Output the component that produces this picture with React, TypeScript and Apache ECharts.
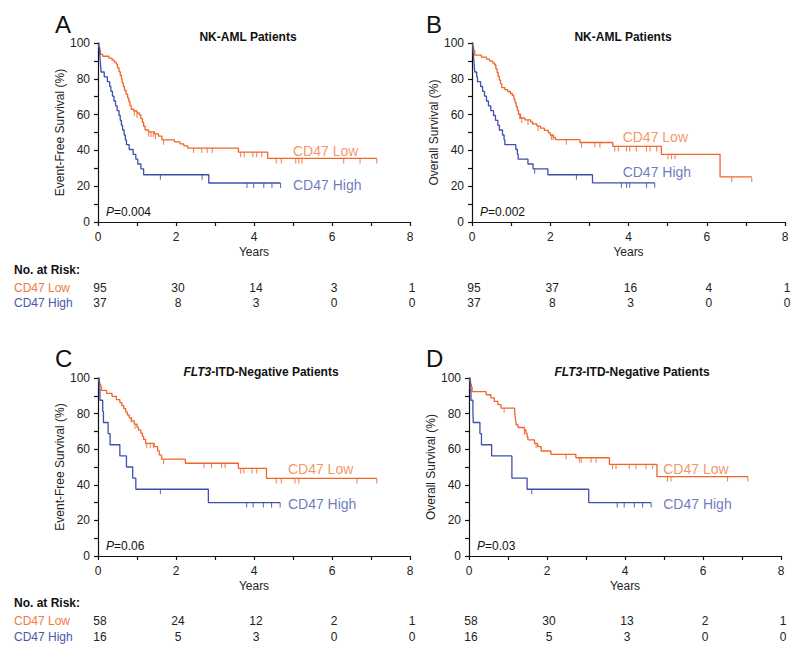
import React, { useEffect, useRef } from 'react';
import * as echarts from 'echarts';

// ---------- DATA ----------
const riskYears = [0, 2, 4, 6, 8];

// Panel A: Event-free survival, NK-AML
const aLowSteps: [number, number][] = [[0,100],[0.02,97.9],[0.04,95.8],[0.06,93.7],[0.12,92.6],[0.28,91.5],[0.36,90.4],[0.42,89.3],[0.47,88.2],[0.5,86.1],[0.54,84.0],[0.57,81.9],[0.6,79.8],[0.62,77.7],[0.65,75.6],[0.68,73.5],[0.72,71.4],[0.76,69.3],[0.79,67.2],[0.82,65.1],[0.85,63.0],[0.92,62.0],[1.0,60.9],[1.06,59.8],[1.1,57.7],[1.14,55.6],[1.17,53.5],[1.21,51.4],[1.3,50.3],[1.45,49.2],[1.55,48.0],[1.64,45.9],[1.96,44.8],[2.1,43.7],[2.2,42.5],[2.3,41.3],[3.6,39.0],[4.35,35.5]];
const aLowEnd = 7.15;
const aLowCensor = [0.93,1.0,1.3,1.36,1.42,1.47,1.68,2.45,2.66,2.8,2.93,3.66,3.75,3.97,4.07,4.2,4.57,4.7,5.07,5.15,5.23,6.3,6.72,7.15];
const aHighSteps: [number, number][] = [[0,100],[0.02,97.3],[0.04,94.6],[0.05,91.9],[0.06,89.2],[0.07,86.5],[0.08,83.8],[0.16,81.1],[0.24,78.4],[0.3,75.7],[0.33,73.0],[0.37,70.3],[0.41,67.6],[0.45,64.9],[0.49,62.2],[0.54,59.5],[0.57,56.8],[0.6,54.1],[0.63,51.4],[0.67,48.6],[0.7,45.9],[0.73,43.2],[0.8,40.5],[0.9,37.8],[0.97,35.1],[1.02,32.4],[1.1,29.7],[1.17,26.4],[2.84,21.8]];
const aHighEnd = 4.68;
const aHighCensor = [1.6,2.67,3.82,3.99,4.25,4.46,4.68];
const aRiskLow = [95, 30, 14, 3, 1];
const aRiskHigh = [37, 8, 3, 0, 0];

// Panel B: Overall survival, NK-AML
const bLowSteps: [number, number][] = [[0,100],[0.02,97.9],[0.04,95.8],[0.07,93.2],[0.24,92.1],[0.37,91.0],[0.45,89.9],[0.53,88.8],[0.58,87.7],[0.61,85.6],[0.64,83.5],[0.67,81.4],[0.7,79.3],[0.73,77.2],[0.76,75.1],[0.84,74.0],[0.91,72.9],[0.98,71.8],[1.03,70.7],[1.07,68.6],[1.1,66.5],[1.13,64.4],[1.16,62.3],[1.19,60.2],[1.24,58.1],[1.35,57.0],[1.5,55.9],[1.55,54.8],[1.66,53.6],[1.75,52.4],[1.85,51.2],[1.95,49.9],[2.0,48.6],[2.08,47.3],[2.13,46.0],[2.76,44.4],[3.6,42.2],[4.84,37.8],[6.34,25.2]];
const bLowEnd = 7.15;
const bLowCensor = [1.22,1.27,1.43,1.69,2.03,2.07,2.41,2.8,3.14,3.27,3.65,3.74,3.95,4.03,4.2,4.46,4.55,4.72,5.01,5.1,5.19,6.64,7.15];
const bHighSteps: [number, number][] = [[0,100],[0.02,97.3],[0.03,94.6],[0.04,91.9],[0.05,89.2],[0.06,86.5],[0.07,83.8],[0.12,81.1],[0.14,78.4],[0.22,75.7],[0.27,73.0],[0.32,70.3],[0.37,67.6],[0.42,64.9],[0.48,62.2],[0.55,59.5],[0.6,56.8],[0.66,54.1],[0.7,51.4],[0.78,48.6],[0.82,45.9],[0.84,43.2],[1.12,40.5],[1.16,37.8],[1.18,35.1],[1.43,32.4],[1.56,29.7],[1.94,26.4],[3.08,21.9]];
const bHighEnd = 4.67;
const bHighCensor = [1.6,2.67,3.82,3.95,4.03,4.46,4.67];
const bRiskLow = [95, 37, 16, 4, 1];
const bRiskHigh = [37, 8, 3, 0, 0];

// Panel C: Event-free survival, FLT3-ITD-negative
const cLowSteps: [number, number][] = [[0,100],[0.02,98.3],[0.04,96.6],[0.07,94.8],[0.09,93.1],[0.22,91.4],[0.36,89.7],[0.47,87.9],[0.56,86.2],[0.61,84.5],[0.66,82.8],[0.71,81.0],[0.75,79.3],[0.8,77.6],[0.86,75.9],[0.93,74.1],[1.0,72.4],[1.04,70.7],[1.1,69.0],[1.14,67.2],[1.17,65.5],[1.22,63.3],[1.44,61.4],[1.53,59.1],[1.57,56.8],[1.63,54.4],[2.24,52.1],[3.6,49.2],[4.32,43.6]];
const cLowEnd = 7.15;
const cLowCensor = [0.85,0.95,1.25,1.34,1.42,1.68,2.72,2.91,3.17,3.26,3.66,3.74,3.95,4.07,4.57,4.7,5.05,5.15,6.64,7.15];
const cHighSteps: [number, number][] = [[0,100],[0.03,93.75],[0.05,87.5],[0.12,81.25],[0.14,75],[0.26,68.75],[0.31,62.5],[0.56,56.25],[0.73,50],[0.89,43.75],[0.97,37.5],[2.83,30]];
const cHighEnd = 4.67;
const cHighCensor = [1.6,3.81,3.98,4.24,4.45,4.67];
const cRiskLow = [58, 24, 12, 2, 1];
const cRiskHigh = [16, 5, 3, 0, 0];

// Panel D: Overall survival, FLT3-ITD-negative
const dLowSteps: [number, number][] = [[0,100],[0.02,98.3],[0.04,96.6],[0.06,94.8],[0.08,92.3],[0.44,90.6],[0.56,88.8],[0.65,86.9],[0.74,85.0],[0.82,83.1],[1.17,81.2],[1.18,79.3],[1.19,77.4],[1.2,75.5],[1.21,73.6],[1.26,72.2],[1.42,70.8],[1.46,68.9],[1.49,67.0],[1.51,65.2],[1.68,63.3],[1.76,61.4],[1.85,59.0],[2.1,57.1],[2.74,55.2],[3.6,51.5],[4.82,44.6]];
const dLowEnd = 7.15;
const dLowCensor = [0.9,1.42,1.72,2.49,2.83,2.88,3.13,3.26,3.68,3.77,4.11,4.28,4.54,4.71,5.09,5.18,6.63,7.15];
const dHighSteps: [number, number][] = [[0,100],[0.03,93.75],[0.05,87.5],[0.1,81.25],[0.11,75],[0.28,68.75],[0.32,62.5],[0.58,56.25],[1.1,43.75],[1.49,37.5],[3.07,30]];
const dHighEnd = 4.67;
const dHighCensor = [1.61,3.8,3.98,4.24,4.45,4.67];
const dRiskLow = [58, 30, 13, 2, 1];
const dRiskHigh = [16, 5, 3, 0, 0];

// label anchors (years, %)
const aLabelPos = { low: [5.0, 39.7], high: [5.0, 20.7] };
const bLabelPos = { low: [3.85, 47.7], high: [3.85, 28.1] };
const cLabelPos = { low: [4.87, 48.7], high: [4.87, 29.2] };
const dLabelPos = { low: [4.98, 48.7], high: [4.98, 29.2] };

const pValues = ['0.004', '0.002', '0.06', '0.03'];
const yNames = ['Event-Free Survival (%)', 'Overall Survival (%)', 'Event-Free Survival (%)', 'Overall Survival (%)'];
const letters = ['A', 'B', 'C', 'D'];

// ---------- STYLE / LAYOUT ----------
const ORANGE = '#f0652a';
const BLUE = '#3f4fad';
const ORANGE_TXT = '#f27a3e';
const BLUE_TXT = '#4a58ab';
const FONT = "'Liberation Sans', Arial, Helvetica, sans-serif";

const layout = [
  { left: 98, top: 43, width: 312, height: 179, titleX: 248, titleY: 37, letterX: 55, letterY: 24, riskY: [270, 288, 303] },
  { left: 472, top: 43, width: 313, height: 179, titleX: 623, titleY: 37, letterX: 426, letterY: 24, riskY: [270, 288, 303] },
  { left: 98, top: 378, width: 312, height: 178, titleX: 261, titleY: 372, letterX: 55, letterY: 358, riskY: [603, 621, 637] },
  { left: 469, top: 378, width: 312, height: 178, titleX: 632, titleY: 372, letterX: 426, letterY: 358, riskY: [603, 621, 637] },
];

const panels = [
  { low: aLowSteps, lowEnd: aLowEnd, lowC: aLowCensor, high: aHighSteps, highEnd: aHighEnd, highC: aHighCensor, rl: aRiskLow, rh: aRiskHigh, lab: aLabelPos, flt: false },
  { low: bLowSteps, lowEnd: bLowEnd, lowC: bLowCensor, high: bHighSteps, highEnd: bHighEnd, highC: bHighCensor, rl: bRiskLow, rh: bRiskHigh, lab: bLabelPos, flt: false },
  { low: cLowSteps, lowEnd: cLowEnd, lowC: cLowCensor, high: cHighSteps, highEnd: cHighEnd, highC: cHighCensor, rl: cRiskLow, rh: cRiskHigh, lab: cLabelPos, flt: true },
  { low: dLowSteps, lowEnd: dLowEnd, lowC: dLowCensor, high: dHighSteps, highEnd: dHighEnd, highC: dHighCensor, rl: dRiskLow, rh: dRiskHigh, lab: dLabelPos, flt: true },
];

function survivalAt(steps: [number, number][], t: number) {
  let v = steps[0][1];
  for (const [x, y] of steps) { if (x <= t) v = y; }
  return v;
}

function buildOption() {
  const grid: any[] = [];
  const xAxis: any[] = [];
  const yAxis: any[] = [];
  const series: any[] = [];
  const graphic: any[] = [];

  panels.forEach((p, i) => {
    const L = layout[i];
    grid.push({ left: L.left, top: L.top, width: L.width, height: L.height, containLabel: false });
    xAxis.push({
      type: 'value', gridIndex: i, min: 0, max: 8, interval: 1,
      name: 'Years', nameLocation: 'middle', nameGap: 24,
      nameTextStyle: { fontFamily: FONT, fontSize: 12, color: '#222' },
      axisLine: { show: true, onZero: false, lineStyle: { color: '#111', width: 1.2 } },
      axisTick: { show: true, length: 4, inside: false, lineStyle: { color: '#111', width: 1.2 } },
      axisLabel: { margin: 9, fontFamily: FONT, fontSize: 12, color: '#222', formatter: (v: number) => (v % 2 === 0 ? String(v) : '') },
      splitLine: { show: false },
    });
    yAxis.push({
      type: 'value', gridIndex: i, min: 0, max: 100, interval: 10,
      name: yNames[i], nameLocation: 'middle', nameGap: 30,
      nameTextStyle: { fontFamily: FONT, fontSize: 12, color: '#222' },
      axisLine: { show: true, onZero: false, lineStyle: { color: '#111', width: 1.2 } },
      axisTick: { show: true, length: 4, inside: false, lineStyle: { color: '#111', width: 1.2 } },
      axisLabel: { margin: 8, fontFamily: FONT, fontSize: 12, color: '#222', formatter: (v: number) => (v % 20 === 0 ? String(v) : '') },
      splitLine: { show: false },
    });

    const lowData = [...p.low, [p.lowEnd, p.low[p.low.length - 1][1]]];
    const highData = [...p.high, [p.highEnd, p.high[p.high.length - 1][1]]];
    const lineBase = { type: 'line', xAxisIndex: i, yAxisIndex: i, step: 'end', showSymbol: false, symbol: 'none', silent: true, z: 3 };
    series.push({ ...lineBase, name: 'CD47 Low', data: lowData, lineStyle: { color: ORANGE, width: 1.3 } });
    series.push({ ...lineBase, name: 'CD47 High', data: highData, lineStyle: { color: BLUE, width: 1.3 } });

    const censorBase = { type: 'scatter', xAxisIndex: i, yAxisIndex: i, symbol: 'rect', symbolSize: [1.1, 5], symbolOffset: [0, 2.5], silent: true, z: 4 };
    series.push({ ...censorBase, data: p.lowC.map((t) => [t, survivalAt(p.low, t)]), itemStyle: { color: ORANGE } });
    series.push({ ...censorBase, data: p.highC.map((t) => [t, survivalAt(p.high, t)]), itemStyle: { color: BLUE } });

    series.push({
      type: 'scatter', xAxisIndex: i, yAxisIndex: i, symbolSize: 0, silent: true, z: 5,
      label: { show: true, position: 'right', distance: 0, fontFamily: FONT, fontSize: 14 },
      data: [
        { value: p.lab.low, label: { formatter: 'CD47 Low', color: ORANGE_TXT } },
        { value: p.lab.high, label: { formatter: 'CD47 High', color: BLUE_TXT } },
      ],
    });

    // letters
    graphic.push({ type: 'text', x: L.letterX, y: L.letterY, style: { text: letters[i], fontFamily: FONT, fontSize: 24, fill: '#111', verticalAlign: 'middle', align: 'left' } });
    // titles
    graphic.push({
      type: 'text', x: L.titleX, y: L.titleY,
      style: p.flt
        ? { text: '{i|FLT3}{b|-ITD-Negative Patients}', align: 'center', verticalAlign: 'middle', rich: { i: { fontFamily: FONT, fontSize: 12, fontWeight: 'bold', fontStyle: 'italic', fill: '#111' }, b: { fontFamily: FONT, fontSize: 12, fontWeight: 'bold', fill: '#111' } } }
        : { text: 'NK-AML Patients', fontFamily: FONT, fontSize: 12, fontWeight: 'bold', fill: '#111', align: 'center', verticalAlign: 'middle' },
    });
    // P value
    graphic.push({
      type: 'text', x: L.left + 8, y: L.top + L.height - 10,
      style: { text: '{i|P}{n|=' + pValues[i] + '}', align: 'left', verticalAlign: 'middle', rich: { i: { fontFamily: FONT, fontSize: 12, fontStyle: 'italic', fill: '#111' }, n: { fontFamily: FONT, fontSize: 12, fill: '#111' } } },
    });
    // risk table
    const xPix = (t: number) => L.left + (t / 8) * L.width + 2;
    if (i % 2 === 0) {
      graphic.push({ type: 'text', x: 14, y: L.riskY[0], style: { text: 'No. at Risk:', fontFamily: FONT, fontSize: 12, fontWeight: 'bold', fill: '#111', verticalAlign: 'middle' } });
      graphic.push({ type: 'text', x: 14, y: L.riskY[1], style: { text: 'CD47 Low', fontFamily: FONT, fontSize: 12, fill: ORANGE_TXT, verticalAlign: 'middle' } });
      graphic.push({ type: 'text', x: 14, y: L.riskY[2], style: { text: 'CD47 High', fontFamily: FONT, fontSize: 12, fill: BLUE_TXT, verticalAlign: 'middle' } });
    }
    riskYears.forEach((t, k) => {
      graphic.push({ type: 'text', x: xPix(t), y: L.riskY[1], style: { text: String(p.rl[k]), fontFamily: FONT, fontSize: 12, fill: '#222', align: 'center', verticalAlign: 'middle' } });
      graphic.push({ type: 'text', x: xPix(t), y: L.riskY[2], style: { text: String(p.rh[k]), fontFamily: FONT, fontSize: 12, fill: '#222', align: 'center', verticalAlign: 'middle' } });
    });
  });

  return { animation: false, backgroundColor: '#ffffff', grid, xAxis, yAxis, series, graphic };
}

export default function App() {
  const ref = useRef<HTMLDivElement>(null);
  useEffect(() => {
    if (!ref.current) return;
    const chart = echarts.init(ref.current, undefined, { renderer: 'svg' });
    chart.setOption(buildOption() as any);
    return () => chart.dispose();
  }, []);
  return <div ref={ref} style={{ position: 'absolute', left: 0, top: 0, width: 800, height: 660, background: '#fff' }} />;
}
